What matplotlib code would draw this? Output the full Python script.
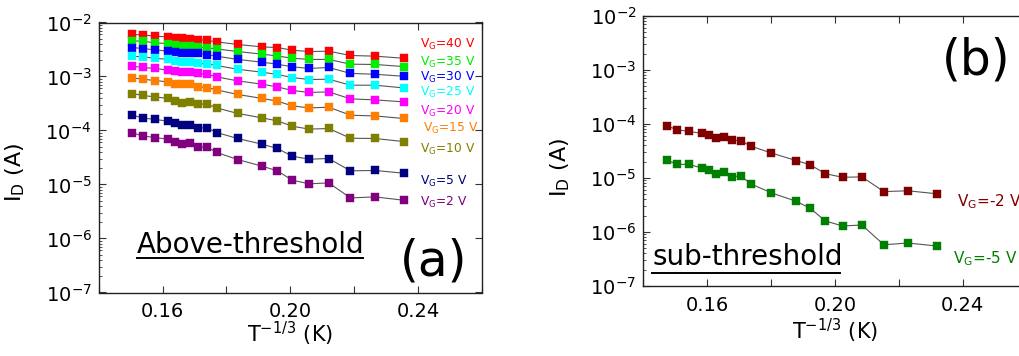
import math
import matplotlib
matplotlib.use("Agg")
import matplotlib.pyplot as plt
from matplotlib.lines import Line2D
from matplotlib.ticker import FixedLocator, LogLocator, NullFormatter, FuncFormatter

plt.rcParams['font.family'] = ['DejaVu Sans']
plt.rcParams['mathtext.default'] = 'regular'

# ---------------- data ----------------
x_a = [0.1505, 0.1538, 0.1576, 0.1618, 0.1638, 0.1661, 0.1685, 0.1711, 0.1740, 0.1769,
       0.1835, 0.1912, 0.1959, 0.2006, 0.2059, 0.2120, 0.2188, 0.2265, 0.2354]

vg40 = [6.0e-3, 5.89e-3, 5.57e-3, 5.41e-3, 5.19e-3, 5.06e-3, 4.97e-3, 4.84e-3, 4.65e-3, 4.38e-3,
        3.92e-3, 3.53e-3, 3.44e-3, 3.07e-3, 2.90e-3, 2.94e-3, 2.45e-3, 2.38e-3, 2.18e-3]
vg35 = [4.56e-3, 4.51e-3, 4.19e-3, 4.08e-3, 3.85e-3, 3.69e-3, 3.69e-3, 3.53e-3, 3.39e-3, 3.24e-3,
        2.90e-3, 2.59e-3, 2.40e-3, 2.18e-3, 2.07e-3, 2.07e-3, 1.69e-3, 1.67e-3, 1.53e-3]
vg30 = [3.44e-3, 3.30e-3, 3.11e-3, 2.94e-3, 2.82e-3, 2.74e-3, 2.74e-3, 2.67e-3, 2.55e-3, 2.38e-3,
        2.07e-3, 1.84e-3, 1.69e-3, 1.51e-3, 1.41e-3, 1.47e-3, 1.14e-3, 1.10e-3, 1.01e-3]
vg25 = [2.38e-3, 2.31e-3, 2.18e-3, 2.07e-3, 1.95e-3, 1.86e-3, 1.84e-3, 1.76e-3, 1.71e-3, 1.60e-3,
        1.36e-3, 1.20e-3, 1.09e-3, 9.57e-4, 8.79e-4, 8.91e-4, 6.90e-4, 6.90e-4, 6.15e-4]
vg20 = [1.55e-3, 1.47e-3, 1.41e-3, 1.31e-3, 1.24e-3, 1.19e-3, 1.19e-3, 1.14e-3, 1.10e-3, 9.84e-4,
        8.30e-4, 7.19e-4, 6.41e-4, 5.51e-4, 5.06e-4, 5.19e-4, 3.85e-4, 3.69e-4, 3.39e-4]
vg15 = [9.42e-4, 8.91e-4, 8.43e-4, 7.94e-4, 7.41e-4, 7.11e-4, 7.11e-4, 6.41e-4, 6.25e-4, 5.65e-4,
        4.65e-4, 3.92e-4, 3.49e-4, 2.86e-4, 2.62e-4, 2.70e-4, 1.92e-4, 1.86e-4, 1.67e-4]
vg10 = [4.84e-4, 4.45e-4, 4.19e-4, 3.92e-4, 3.53e-4, 3.30e-4, 3.39e-4, 3.11e-4, 3.07e-4, 2.62e-4,
        2.07e-4, 1.71e-4, 1.51e-4, 1.20e-4, 1.06e-4, 1.09e-4, 7.19e-5, 7.11e-5, 6.25e-5]
vg5 = [1.92e-4, 1.71e-4, 1.60e-4, 1.49e-4, 1.35e-4, 1.24e-4, 1.27e-4, 1.12e-4, 1.12e-4, 9.18e-5,
       7.11e-5, 5.57e-5, 4.65e-5, 3.34e-5, 2.94e-5, 3.03e-5, 1.79e-5, 1.82e-5, 1.62e-5]
vg2 = [9.04e-5, 7.94e-5, 7.41e-5, 6.90e-5, 6.15e-5, 5.51e-5, 5.89e-5, 4.97e-5, 4.91e-5, 3.92e-5,
       2.90e-5, 2.18e-5, 1.79e-5, 1.20e-5, 1.03e-5, 1.07e-5, 5.65e-6, 5.89e-6, 5.12e-6]

x_b = [0.1474, 0.1506, 0.1544, 0.1583, 0.1605, 0.1628, 0.1652, 0.1678, 0.1706, 0.1736,
       0.1801, 0.1879, 0.1922, 0.1970, 0.2024, 0.2084, 0.2153, 0.2228, 0.2319]
vgm2 = [9.2e-5, 7.8e-5, 7.3e-5, 6.7e-5, 6.2e-5, 5.4e-5, 5.8e-5, 5.0e-5, 4.9e-5, 3.9e-5,
        2.9e-5, 2.1e-5, 1.76e-5, 1.2e-5, 1.03e-5, 1.05e-5, 5.6e-6, 5.8e-6, 5.1e-6]
vgm5 = [2.13e-5, 1.8e-5, 1.78e-5, 1.53e-5, 1.39e-5, 1.19e-5, 1.29e-5, 1.06e-5, 1.09e-5, 7.8e-6,
        5.3e-6, 3.7e-6, 2.75e-6, 1.6e-6, 1.29e-6, 1.35e-6, 5.8e-7, 6.25e-7, 5.5e-7]

series_a = [vg40, vg35, vg30, vg25, vg20, vg15, vg10, vg5, vg2]
labels_a = ['40', '35', '30', '25', '20', '15', '10', '5', '2']
colors_a = ['#FF0000', '#00EE00', '#0000FF', '#00FFFF', '#FF00FF', '#FF8000', '#808000', '#000080', '#800080']
series_b = [vgm2, vgm5]
labels_b = ['-2', '-5']
colors_b = ['#800000', '#008000']

xticks = [0.14, 0.16, 0.18, 0.20, 0.22, 0.24, 0.26]
xtick_labels = {0.16: '0.16', 0.20: '0.20', 0.24: '0.24'}

# ---------------- figure ----------------
W, H = 1019, 356
fig = plt.figure(figsize=(W / 100, H / 100), dpi=100)

def add_axes_px(left, top, width, height):
    return fig.add_axes([left / W, (H - top - height) / H, width / W, height / H])

ax_a = add_axes_px(98.7, 22.5, 383.4, 270)
ax_b = add_axes_px(643.3, 16, 383.4, 270)


def style(ax):
    ax.set_yscale('log')
    ax.set_ylim(1e-7, 1e-2)
    ax.set_xlim(0.14, 0.26)
    ax.xaxis.set_major_locator(FixedLocator(xticks))
    ax.xaxis.set_major_formatter(FuncFormatter(
        lambda v, p: xtick_labels.get(round(v, 2), '')))
    ax.yaxis.set_major_locator(LogLocator(base=10, numticks=10))
    ax.yaxis.set_minor_locator(LogLocator(base=10, subs=range(2, 10), numticks=100))
    ax.yaxis.set_minor_formatter(NullFormatter())
    ax.yaxis.set_major_formatter(FuncFormatter(
        lambda v, p: r'$10^{%d}$' % round(math.log10(v))))
    ax.tick_params(axis='both', which='major', direction='in', length=5, width=0.8,
                   top=True, right=True, labelsize=14, color='#333333')
    ax.tick_params(axis='x', which='major', pad=7)
    ax.tick_params(axis='y', which='major', pad=5)
    ax.tick_params(axis='y', which='minor', direction='in', length=2.5, width=0.6,
                   left=True, right=False, color='#333333')
    for s in ax.spines.values():
        s.set_linewidth(1.0)
        s.set_color('#222222')
    ax.set_xlabel(r'T$^{-1/3}$ (K)', fontsize=15)
    ax.set_ylabel(r'I$_D$ (A)', fontsize=16)


def draw(ax, x, series, colors):
    for ys in series:
        ax.plot(x, ys, '-', color='#555555', lw=0.8, zorder=2)
    for ys, c in zip(series, colors):
        ax.plot(x, ys, 's', color=c, ms=5.4, mec=c, mew=0.3, zorder=3, ls='none')


style(ax_a)
style(ax_b)
draw(ax_a, x_a, series_a, colors_a)
draw(ax_b, x_b, series_b, colors_b)

ax_a.xaxis.set_label_coords(0.5, -0.10)
ax_b.xaxis.set_label_coords(0.5, -0.115)
ax_a.yaxis.set_label_coords(-0.188, 0.446)
ax_b.yaxis.set_label_coords(-0.187, 0.44)

# V_G labels, panel (a)
label_pos_a = [(0.837, 0.907), (0.837, 0.840), (0.837, 0.782), (0.837, 0.728),
               (0.837, 0.658), (0.847, 0.593), (0.837, 0.517), (0.837, 0.399), (0.837, 0.321)]
for lab, c, (px, py) in zip(labels_a, colors_a, label_pos_a):
    ax_a.text(px, py, r'V$_G$=' + lab + ' V', color=c, fontsize=8.8,
              transform=ax_a.transAxes, ha='left', va='baseline')

label_pos_b = [(0.817, 0.294), (0.808, 0.084)]
for lab, c, (px, py) in zip(labels_b, colors_b, label_pos_b):
    ax_b.text(px, py, r'V$_G$=' + lab + ' V', color=c, fontsize=11,
              transform=ax_b.transAxes, ha='left', va='baseline')

# Annotations
ax_a.text(0.100, 0.145, 'Above-threshold', fontsize=20, transform=ax_a.transAxes,
          ha='left', va='baseline')
ax_a.add_line(Line2D([0.100, 0.690], [0.128, 0.128], transform=ax_a.transAxes,
                     color='black', lw=1.4))
ax_a.text(0.874, 0.113, '(a)', fontsize=35, transform=ax_a.transAxes,
          ha='center', va='center')

ax_b.text(0.023, 0.078, 'sub-threshold', fontsize=20, transform=ax_b.transAxes,
          ha='left', va='baseline')
ax_b.add_line(Line2D([0.023, 0.513], [0.049, 0.049], transform=ax_b.transAxes,
                     color='black', lw=1.4))
ax_b.text(0.868, 0.837, '(b)', fontsize=35, transform=ax_b.transAxes,
          ha='center', va='center')

fig.savefig('out.png', dpi=100)
